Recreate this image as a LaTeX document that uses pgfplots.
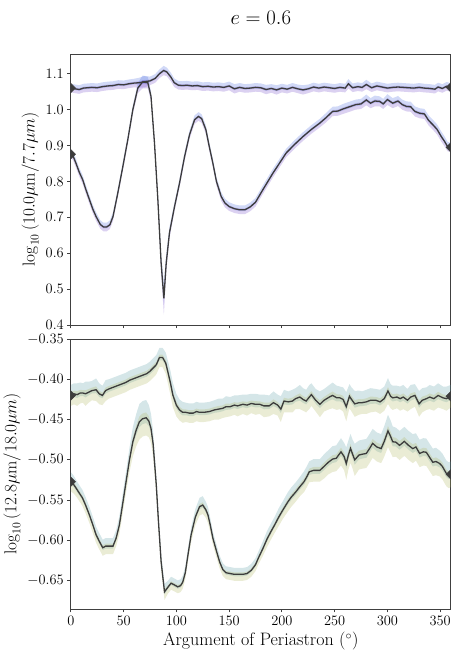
\documentclass[border=0pt]{standalone}
\usepackage{pgfplots}
\pgfplotsset{compat=1.18}
\usepgfplotslibrary{fillbetween}
\usepackage{pgfplotstable}

\definecolor{lincol}{RGB}{60,60,60}
\definecolor{topblue}{RGB}{72,105,222}
\definecolor{toppurp}{RGB}{110,70,200}
\definecolor{botblue}{RGB}{88,155,165}
\definecolor{botyell}{RGB}{172,178,88}

% columns: x = argument of periastron (deg), y = log ratio, e = band half-width
\pgfplotstableread{
x y e
0 1.060 0.012
4 1.058 0.012
8 1.056 0.012
12 1.060 0.012
16 1.061 0.012
20 1.062 0.012
25 1.061 0.012
30 1.064 0.012
35 1.066 0.012
40 1.067 0.012
45 1.070 0.012
50 1.069 0.012
55 1.072 0.012
60 1.074 0.012
65 1.075 0.014
70 1.078 0.016
75 1.080 0.012
80 1.087 0.012
84 1.100 0.012
88 1.109 0.013
91 1.105 0.012
95 1.090 0.012
98 1.075 0.012
102 1.068 0.012
106 1.067 0.012
110 1.068 0.012
115 1.066 0.012
120 1.067 0.012
125 1.064 0.012
130 1.065 0.012
135 1.063 0.012
140 1.064 0.012
145 1.062 0.012
150 1.066 0.012
155 1.058 0.013
160 1.062 0.012
165 1.059 0.012
170 1.060 0.012
175 1.062 0.012
180 1.061 0.012
185 1.056 0.013
190 1.059 0.012
195 1.055 0.013
200 1.060 0.012
205 1.057 0.012
210 1.062 0.012
215 1.058 0.012
220 1.055 0.013
225 1.058 0.012
230 1.063 0.012
235 1.060 0.012
240 1.063 0.012
245 1.061 0.012
250 1.059 0.012
255 1.062 0.012
260 1.060 0.012
263 1.072 0.013
267 1.061 0.012
272 1.064 0.012
276 1.062 0.012
280 1.070 0.013
285 1.061 0.012
290 1.066 0.012
295 1.063 0.012
300 1.060 0.012
305 1.062 0.012
310 1.063 0.012
315 1.062 0.012
320 1.061 0.012
325 1.060 0.012
330 1.062 0.012
335 1.060 0.012
340 1.059 0.012
345 1.057 0.012
348 1.063 0.012
352 1.059 0.012
356 1.065 0.012
360 1.062 0.012
}\topA

\pgfplotstableread{
x y e
0 0.876 0.012
2 0.872 0.012
5 0.850 0.012
8 0.826 0.012
11.4 0.804 0.012
14 0.780 0.012
17.7 0.749 0.012
21 0.722 0.012
24 0.702 0.012
28 0.680 0.012
31 0.673 0.012
34 0.673 0.012
37 0.679 0.012
40 0.702 0.012
44.5 0.767 0.012
49.3 0.841 0.012
54 0.916 0.012
58.8 1.000 0.012
63.5 1.060 0.014
68 1.077 0.018
73 1.075 0.016
76 1.037 0.014
79.3 0.907 0.014
82.5 0.749 0.016
85.6 0.572 0.025
88.2 0.474 0.045
90.4 0.572 0.025
93.5 0.657 0.016
98.3 0.730 0.012
103 0.795 0.012
107.8 0.869 0.012
112.5 0.930 0.012
117.3 0.972 0.012
121 0.981 0.012
124 0.975 0.012
128 0.944 0.012
131 0.900 0.012
134.6 0.851 0.012
138 0.800 0.012
142.5 0.758 0.012
146 0.740 0.012
150 0.730 0.012
155 0.724 0.012
160 0.721 0.012
165 0.721 0.012
170 0.729 0.012
175 0.742 0.012
182 0.777 0.012
191.5 0.823 0.012
198 0.852 0.012
204 0.879 0.012
212 0.903 0.012
220 0.925 0.012
228 0.945 0.012
235.7 0.962 0.012
242 0.978 0.013
248 0.995 0.013
253 0.996 0.013
258 1.002 0.014
264 1.008 0.014
270 1.014 0.014
275 1.016 0.014
280 1.027 0.015
284 1.018 0.014
288 1.024 0.015
292.6 1.023 0.014
296 1.016 0.014
300 1.028 0.015
305 1.018 0.014
310 1.024 0.014
314 1.014 0.014
318 1.009 0.014
322 1.008 0.014
326 0.995 0.014
330.5 0.990 0.014
335 0.988 0.014
339 0.970 0.014
343 0.958 0.014
347 0.945 0.014
351 0.925 0.014
354 0.912 0.014
357 0.897 0.013
360 0.895 0.013
}\topB

\pgfplotstableread{
x y e
0 -0.420 0.013
3 -0.418 0.013
6 -0.419 0.014
9 -0.417 0.013
11.4 -0.417 0.012
14 -0.418 0.015
17 -0.416 0.013
20 -0.414 0.012
24 -0.413 0.014
27 -0.418 0.013
30 -0.420 0.012
33 -0.414 0.013
36 -0.412 0.012
40 -0.410 0.012
44 -0.408 0.012
48 -0.406 0.012
52 -0.404 0.012
56 -0.401 0.012
60 -0.399 0.012
64 -0.397 0.012
68 -0.395 0.012
72 -0.393 0.012
75 -0.390 0.012
78 -0.386 0.012
81 -0.382 0.012
84 -0.373 0.012
87 -0.373 0.012
90 -0.380 0.013
92 -0.391 0.014
94.5 -0.405 0.015
96.7 -0.4195 0.015
100 -0.432 0.014
103 -0.438 0.013
106 -0.441 0.013
109 -0.441 0.012
112.5 -0.442 0.012
116 -0.442 0.012
119 -0.440 0.012
122 -0.441 0.012
126 -0.441 0.012
131.5 -0.440 0.012
136 -0.438 0.012
140 -0.437 0.013
144 -0.436 0.012
147 -0.434 0.013
151 -0.434 0.012
155 -0.432 0.012
158 -0.433 0.013
163 -0.431 0.012
167 -0.432 0.013
171 -0.430 0.012
175 -0.431 0.013
179 -0.431 0.012
183 -0.433 0.014
188 -0.433 0.013
192 -0.429 0.014
196 -0.432 0.013
199 -0.437 0.016
202 -0.427 0.014
206 -0.428 0.013
210 -0.427 0.014
213 -0.424 0.013
217 -0.422 0.015
220 -0.425 0.014
223 -0.427 0.014
226 -0.422 0.015
228 -0.419 0.014
232 -0.426 0.014
236 -0.431 0.016
240 -0.426 0.014
245 -0.422 0.015
248 -0.420 0.016
252 -0.423 0.015
255 -0.423 0.014
258 -0.425 0.015
261 -0.434 0.018
264 -0.421 0.015
266 -0.425 0.015
269 -0.4305 0.016
273 -0.429 0.015
276 -0.429 0.014
280 -0.428 0.015
284 -0.426 0.015
289 -0.426 0.014
293 -0.428 0.015
297 -0.424 0.015
300.5 -0.4145 0.016
303 -0.421 0.015
305 -0.423 0.015
309 -0.422 0.014
312 -0.424 0.015
315 -0.422 0.015
319 -0.426 0.014
322 -0.422 0.015
326 -0.420 0.014
330 -0.4305 0.016
333 -0.426 0.015
337 -0.424 0.014
340 -0.422 0.015
344 -0.424 0.015
348 -0.420 0.015
352.6 -0.423 0.014
356 -0.424 0.015
360 -0.421 0.014
}\botA

\pgfplotstableread{
x y e
0 -0.527 0.012
3 -0.531 0.011
6 -0.537 0.010
8.2 -0.5415 0.010
11 -0.547 0.010
14 -0.556 0.010
17.7 -0.5685 0.010
21 -0.581 0.010
24 -0.593 0.010
27 -0.601 0.010
30.3 -0.609 0.010
33 -0.607 0.010
36.7 -0.607 0.010
40 -0.607 0.010
43 -0.597 0.010
46 -0.581 0.011
49 -0.556 0.012
52.4 -0.527 0.013
55.6 -0.500 0.015
58.8 -0.4775 0.018
62 -0.463 0.020
65 -0.4527 0.022
68 -0.449 0.022
71.4 -0.4477 0.022
74 -0.452 0.020
76 -0.461 0.018
78 -0.480 0.016
81 -0.531 0.012
83 -0.575 0.010
85.6 -0.6265 0.010
88.8 -0.6637 0.010
92 -0.658 0.008
95 -0.653 0.008
98 -0.655 0.008
101.4 -0.6575 0.008
104 -0.656 0.008
106 -0.652 0.008
108.5 -0.640 0.008
111 -0.618 0.008
114 -0.593 0.009
118 -0.571 0.010
122 -0.558 0.011
125 -0.556 0.011
128 -0.562 0.010
130 -0.5685 0.010
132 -0.580 0.009
134.6 -0.597 0.008
138 -0.613 0.008
141 -0.6265 0.008
144 -0.636 0.008
147 -0.640 0.008
151 -0.641 0.008
155 -0.642 0.008
159 -0.642 0.008
163 -0.642 0.008
167 -0.641 0.008
171 -0.637 0.008
175 -0.630 0.008
178 -0.621 0.008
182 -0.610 0.009
186 -0.598 0.010
190 -0.588 0.010
193 -0.581 0.010
197 -0.571 0.011
201 -0.562 0.011
205.7 -0.552 0.012
209 -0.546 0.012
213 -0.540 0.012
217 -0.5333 0.012
221 -0.527 0.013
224 -0.520 0.013
226 -0.5147 0.013
230 -0.513 0.014
233 -0.513 0.014
236 -0.513 0.014
240 -0.508 0.015
244 -0.503 0.015
248 -0.499 0.016
251.5 -0.498 0.016
256 -0.490 0.017
259 -0.496 0.017
261 -0.5045 0.020
263 -0.494 0.018
265 -0.4857 0.018
267 -0.493 0.018
269 -0.500 0.020
273 -0.494 0.018
276 -0.493 0.018
280 -0.492 0.018
283 -0.486 0.018
286 -0.4795 0.018
290 -0.484 0.018
294 -0.486 0.018
297 -0.477 0.019
300.5 -0.464 0.020
303 -0.471 0.020
305 -0.4775 0.019
308 -0.478 0.018
311.5 -0.482 0.018
316 -0.477 0.018
320 -0.482 0.018
324 -0.486 0.018
327 -0.484 0.017
330.5 -0.492 0.017
334 -0.490 0.017
336.8 -0.4905 0.017
340 -0.497 0.017
343 -0.503 0.017
346 -0.502 0.017
349.5 -0.5045 0.016
352 -0.508 0.016
355.7 -0.5165 0.016
358 -0.519 0.016
360 -0.518 0.016
}\botB

% two overlapping bands round a curve: #2 above, #3 below
\newcommand{\bands}[4]{%
  \addplot[draw=none, forget plot, name path=#4hi] table[x=x, y expr=\thisrow{y}+\thisrow{e}] {#1};
  \addplot[draw=none, forget plot, name path=#4mlo] table[x=x, y expr=\thisrow{y}-0.3*\thisrow{e}] {#1};
  \addplot[draw=none, forget plot, name path=#4mhi] table[x=x, y expr=\thisrow{y}+0.3*\thisrow{e}] {#1};
  \addplot[draw=none, forget plot, name path=#4lo] table[x=x, y expr=\thisrow{y}-\thisrow{e}] {#1};
  \addplot[fill=#2, fill opacity=0.25, draw=none] fill between[of=#4hi and #4mlo];
  \addplot[fill=#3, fill opacity=0.25, draw=none] fill between[of=#4mhi and #4lo];
}

\pgfplotsset{
  myaxis/.style={
    scale only axis, width=380pt,
    xmin=0, xmax=360,
    xtick={0,50,...,350},
    xtick pos=bottom, ytick pos=left,
    tick align=outside, major tick length=3.5pt,
    axis line style={black!75, line width=0.8pt},
    every tick/.style={black!75, line width=0.8pt},
    tick label style={font=\fontsize{13.5}{16}\selectfont},
    label style={font=\fontsize{18}{21}\selectfont},
    clip marker paths=true,
  },
  curve/.style={lincol, line width=1.3pt},
  ends/.style={only marks, lincol, mark=square*, mark size=3.4pt, mark options={rotate=45}},
}

\begin{document}
\begin{tikzpicture}
\node[font=\fontsize{20}{24}\selectfont] at (258pt,638pt) {$e = 0.6$};

\begin{axis}[myaxis,
  at={(68pt,331pt)}, anchor=south west, height=271pt,
  ymin=0.4, ymax=1.155,
  ytick={0.4,0.5,0.6,0.7,0.8,0.9,1.0,1.1},
  yticklabel style={/pgf/number format/.cd, fixed, fixed zerofill, precision=1},
  xticklabels={},
  ylabel={$\log_{10}\left(10.0\mu\mathrm{m}/7.7\mu m\right)$},
]
\bands{\topA}{topblue}{toppurp}{ta}
\bands{\topB}{topblue}{toppurp}{tb}
\addplot[curve] table[x=x, y=y] {\topA};
\addplot[curve] table[x=x, y=y] {\topB};
\addplot[ends] coordinates {(0,1.060) (360,1.062) (0,0.876) (360,0.895)};
\end{axis}

\begin{axis}[myaxis,
  at={(68pt,47pt)}, anchor=south west, height=270pt,
  ymin=-0.685, ymax=-0.35,
  ytick={-0.65,-0.6,-0.55,-0.5,-0.45,-0.4,-0.35},
  yticklabel style={/pgf/number format/.cd, fixed, fixed zerofill, precision=2},
  xlabel={Argument of Periastron ($^\circ$)},
  ylabel={$\log_{10}\left(12.8\mathrm{\mu m}/18.0\mu m\right)$},
]
\bands{\botA}{botblue}{botyell}{ba}
\bands{\botB}{botblue}{botyell}{bb}
\addplot[curve] table[x=x, y=y] {\botA};
\addplot[curve] table[x=x, y=y] {\botB};
\addplot[ends] coordinates {(0,-0.420) (360,-0.421) (0,-0.527) (360,-0.518)};
\end{axis}
\path (0pt,0pt) rectangle (463pt,656pt);
\end{tikzpicture}
\end{document}
